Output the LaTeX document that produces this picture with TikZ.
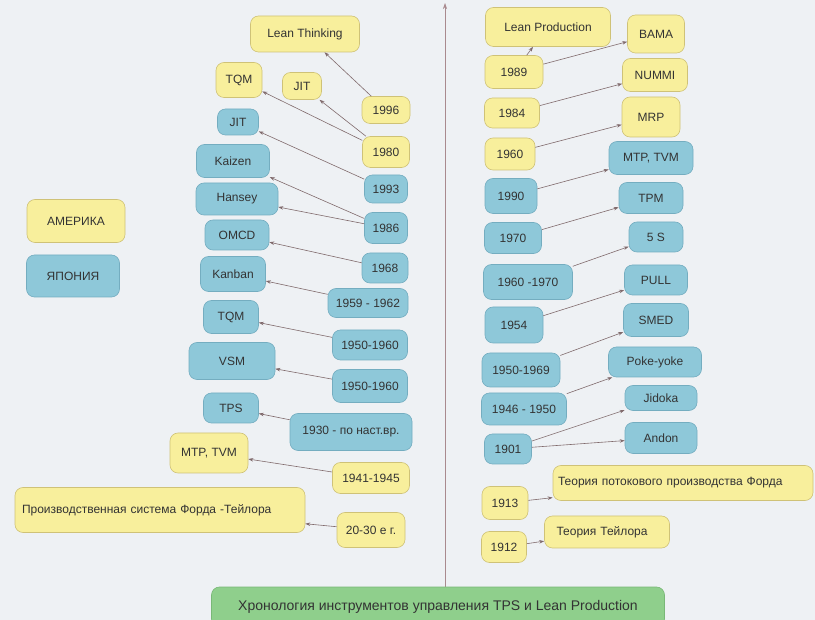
\documentclass[tikz,border=0pt]{standalone}
\usepackage{fontspec}
\setmainfont{Liberation Sans}
\usetikzlibrary{arrows.meta}
\definecolor{bgc}{HTML}{EEF1F4}
\definecolor{usay}{HTML}{F8EF9C}
\definecolor{usayd}{HTML}{CFC277}
\definecolor{japb}{HTML}{8EC8D9}
\definecolor{japbd}{HTML}{74ADC0}
\definecolor{ttlg}{HTML}{8FCF8C}
\definecolor{ttlgd}{HTML}{79B877}
\definecolor{lnkc}{HTML}{806A6C}
\definecolor{axc}{HTML}{A98A8E}
\definecolor{txtc}{HTML}{333333}
\begin{document}
\begin{tikzpicture}[x=1pt, y=-1pt, font=\fontsize{12}{14}\selectfont,
  box/.style={draw, rounded corners=8pt, inner sep=2pt, text=txtc, line width=0.6pt},
  ame/.style={box, fill=usay, draw=usayd},
  jap/.style={box, fill=japb, draw=japbd},
  wh/.style 2 args={minimum width=#1pt, minimum height=#2pt},
  lft/.style 2 args={text width=#1pt, inner xsep=#2pt, align=left},
  lnk/.style={draw=lnkc, line width=0.6pt, -{Stealth[length=5pt,width=3.5pt]}},
]
\fill[bgc] (0,0) rectangle (815,620);
\useasboundingbox (0,0) rectangle (815,620);

% time axis
\coordinate (axbot) at (445,592);
\coordinate (axtop) at (445,3);
\draw[axc, line width=0.6pt, -{Stealth[length=6pt,width=4pt]}] (axbot) -- (axtop);

% legend
\node[ame, wh={98}{43}] (usa) at (76,221) {АМЕРИКА};
\node[jap, wh={93}{42}] (jpn) at (73,276) {ЯПОНИЯ};

% left side: years
\node[ame, wh={48}{27}] (y1996) at (386,110) {1996};
\node[ame, wh={47}{31}] (y1980) at (386,152) {1980};
\node[jap, wh={43}{28}] (y1993) at (386,189) {1993};
\node[jap, wh={43}{31}] (y1986) at (386,228) {1986};
\node[jap, wh={46}{30}] (y1968) at (385,268) {1968};
\node[jap, wh={80}{29}] (y5962) at (368,303) {1959 - 1962};
\node[jap, wh={75}{30}] (y5060a) at (370,345) {1950-1960};
\node[jap, wh={75}{33}] (y5060b) at (370,386) {1950-1960};
\node[jap, wh={122}{37}] (y1930) at (351,432) {1930 - по наст.вр.};
\node[ame, wh={77}{31}] (y4145) at (371,478) {1941-1945};
\node[ame, wh={68}{35}] (y2030) at (371,530) {20-30 е г.};

% left side: tools
\node[ame, wh={109}{36}] (lthink) at (305,34) {Lean Thinking};
\node[ame, wh={46}{35}] (tqmA) at (239,80) {TQM};
\node[ame, wh={39}{27}] (jitA) at (302,86) {JIT};
\node[jap, wh={41}{26}] (jitB) at (238,122) {JIT};
\node[jap, wh={73}{33}] (kaizen) at (233,161) {Kaizen};
\node[jap, wh={82}{32}] (hansey) at (237,199) {Hansey};
\node[jap, wh={64}{30}] (omcd) at (237,235) {OMCD};
\node[jap, wh={65}{35}] (kanban) at (233,274) {Kanban};
\node[jap, wh={55}{33}] (tqmB) at (231,317) {TQM};
\node[jap, wh={86}{37}] (vsm) at (232,361) {VSM};
\node[jap, wh={55}{30}] (tps) at (231,408) {TPS};
\node[ame, wh={78}{40}] (mtpA) at (209,453) {MTP, TVM};
\node[ame, wh={290}{45}, lft={276}{7}] (fordtay) at (160,510) {Производственная система Форда -Тейлора};

% right side: years
\node[ame, wh={58}{33}] (y1989) at (514,72) {1989};
\node[ame, wh={55}{30}] (y1984) at (512,113) {1984};
\node[ame, wh={50}{32}] (y1960) at (510,154) {1960};
\node[jap, wh={52}{35}] (y1990) at (511,196) {1990};
\node[jap, wh={57}{31}] (y1970) at (513,238) {1970};
\node[jap, wh={89}{35}] (y6070) at (528,282) {1960 -1970};
\node[jap, wh={58}{36}] (y1954) at (514,325) {1954};
\node[jap, wh={78}{34}] (y5069) at (521,370) {1950-1969};
\node[jap, wh={85}{32}] (y4650) at (524,409) {1946 - 1950};
\node[jap, wh={47}{30}] (y1901) at (508,449) {1901};
\node[ame, wh={46}{33}] (y1913) at (505,503) {1913};
\node[ame, wh={45}{31}] (y1912) at (504,547) {1912};

% right side: tools
\node[ame, wh={125}{39}] (lprod) at (548,27) {Lean Production};
\node[ame, wh={57}{38}] (bama) at (656,34) {BAMA};
\node[ame, wh={65}{33}] (nummi) at (655,75) {NUMMI};
\node[ame, wh={58}{40}] (mrp) at (651,117) {MRP};
\node[jap, wh={84}{33}] (mtpB) at (651,158) {MTP, TVM};
\node[jap, wh={64}{31}] (tpm) at (651,198) {TPM};
\node[jap, wh={54}{30}] (fives) at (656,237) {5 S};
\node[jap, wh={63}{30}] (pull) at (656,280) {PULL};
\node[jap, wh={65}{33}] (smed) at (656,320) {SMED};
\node[jap, wh={93}{30}] (poka) at (655,362) {Poke-yoke};
\node[jap, wh={72}{25}] (jidoka) at (661,398) {Jidoka};
\node[jap, wh={72}{31}] (andon) at (661,438) {Andon};
\node[ame, wh={260}{35}, lft={250}{5}] (fordflow) at (683,483) {Теория потокового производства Форда};
\node[ame, wh={125}{32}, lft={101}{12}] (taylor) at (607,532) {Теория Тейлора};

% title
\node[box, fill=ttlg, draw=ttlgd, wh={453}{40}, font=\fontsize{14}{16}\selectfont] (title) at (438,607) {Хронология инструментов управления TPS и Lean Production};

% links
\draw[lnk] (y1996) -- (lthink);
\draw[lnk] (y1980) -- (tqmA);
\draw[lnk] (y1980) -- (jitA);
\draw[lnk] (y1993) -- (jitB);
\draw[lnk] (y1986) -- (kaizen);
\draw[lnk] (y1986) -- (hansey);
\draw[lnk] (y1968) -- (omcd);
\draw[lnk] (y5962) -- (kanban);
\draw[lnk] (y5060a) -- (tqmB);
\draw[lnk] (y5060b) -- (vsm);
\draw[lnk] (y1930) -- (tps);
\draw[lnk] (y4145) -- (mtpA);
\draw[lnk] (y2030) -- (fordtay);
\draw[lnk] (y1989) -- (lprod);
\draw[lnk] (y1989) -- (bama);
\draw[lnk] (y1984) -- (nummi);
\draw[lnk] (y1960) -- (mrp);
\draw[lnk] (y1990) -- (mtpB);
\draw[lnk] (y1970) -- (tpm);
\draw[lnk] (y6070) -- (fives);
\draw[lnk] (y1954) -- (pull);
\draw[lnk] (y5069) -- (smed);
\draw[lnk] (y4650) -- (poka);
\draw[lnk] (y1901) -- (jidoka);
\draw[lnk] (y1901) -- (andon);
\draw[lnk] (y1913) -- (fordflow);
\draw[lnk] (y1912) -- (taylor);
\end{tikzpicture}
\end{document}
